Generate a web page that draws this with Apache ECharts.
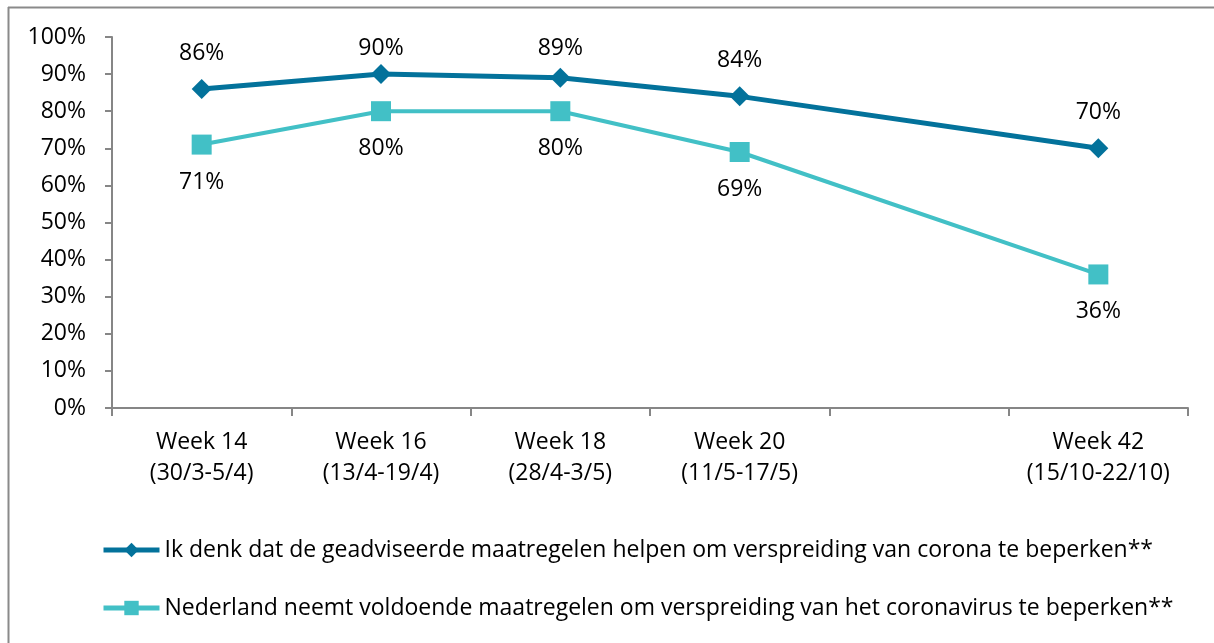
<!DOCTYPE html>
<html>
<head>
<meta charset="utf-8">
<script src="https://cdn.jsdelivr.net/npm/echarts@6/dist/echarts.min.js"></script>
<style>
  html, body { margin: 0; padding: 0; background: #fff; }
  #chart { width: 1214px; height: 643px; }
</style>
</head>
<body>
<div id="chart"></div>
<script>
// categories (empty slot between week 20 and week 42)
var weeks = ['Week 14\n(30/3-5/4)', 'Week 16\n(13/4-19/4)', 'Week 18\n(28/4-3/5)', 'Week 20\n(11/5-17/5)', '', 'Week 42\n(15/10-22/10)']
var helpen = [86, 90, 89, 84, null, 70]
var voldoende = [71, 80, 80, 69, null, 36]
var seriesNames = [
    'Ik denk dat de geadviseerde maatregelen helpen om verspreiding van corona te beperken**',
    'Nederland neemt voldoende maatregelen om verspreiding van het coronavirus te beperken**'
]

var font = '"Open Sans", sans-serif'
var fs = 23
var chart = echarts.init(document.getElementById('chart'))

// keep the labels inside the plot area, like the original does
function keepInside(p) {
    var r = p.labelRect
    if (r.y < 37) {
        return {
            x: r.x + r.width / 2, y: 37 + r.height / 2,
            align: 'center', verticalAlign: 'middle'
        }
    }
    return {}
}

var option = {
    backgroundColor: '#fff',
    animation: false,
    textStyle: { fontFamily: font, color: '#000' },
    grid: { left: 112, right: 26, top: 37, bottom: 235 },
    graphic: [
        { type: 'line', shape: { x1: 8.5, y1: 7, x2: 8.5, y2: 643 }, style: { stroke: '#8a8a8a', lineWidth: 2 } },
        { type: 'line', shape: { x1: 8, y1: 7.5, x2: 1214, y2: 7.5 }, style: { stroke: '#8a8a8a', lineWidth: 2 } }
    ],
    xAxis: {
        type: 'category',
        data: weeks,
        boundaryGap: true,
        axisLine: { lineStyle: { color: '#868686', width: 2 } },
        axisTick: { show: true, length: 8, lineStyle: { color: '#868686', width: 2 } },
        axisLabel: { color: '#000', fontFamily: font, fontSize: fs, lineHeight: 31, margin: 19, interval: 0 }
    },
    yAxis: {
        type: 'value',
        min: 0, max: 100, interval: 10,
        axisLine: { show: true, lineStyle: { color: '#868686', width: 2 } },
        axisTick: { show: true, length: 7, lineStyle: { color: '#868686', width: 2 } },
        splitLine: { show: false },
        axisLabel: { color: '#000', fontFamily: font, fontSize: fs, margin: 26, formatter: '{value}%' }
    },
    legend: {
        orient: 'vertical',
        left: 96,
        top: 529,
        itemWidth: 56,
        itemHeight: 18,
        itemGap: 26,
        lineStyle: { width: 5 },
        textStyle: { fontFamily: font, fontSize: fs, color: '#000', lineHeight: 32 },
        data: seriesNames
    },
    series: [
        {
            name: seriesNames[0],
            type: 'line',
            data: helpen,
            connectNulls: true,
            symbol: 'diamond',
            symbolSize: [20, 20],
            lineStyle: { color: '#03729b', width: 5 },
            itemStyle: { color: '#03729b' },
            label: { show: true, position: 'top', distance: 14, formatter: '{c}%', fontFamily: font, fontSize: fs, color: '#000' },
            labelLayout: keepInside
        },
        {
            name: seriesNames[1],
            type: 'line',
            data: voldoende,
            connectNulls: true,
            symbol: 'rect',
            symbolSize: 20,
            lineStyle: { color: '#42c0c6', width: 4 },
            itemStyle: { color: '#42c0c6' },
            label: { show: true, position: 'bottom', distance: 16, formatter: '{c}%', fontFamily: font, fontSize: fs, color: '#000' }
        }
    ]
}
chart.setOption(option)
window.addEventListener('resize', function () {
    chart.resize()
})
</script>
</body>
</html>
